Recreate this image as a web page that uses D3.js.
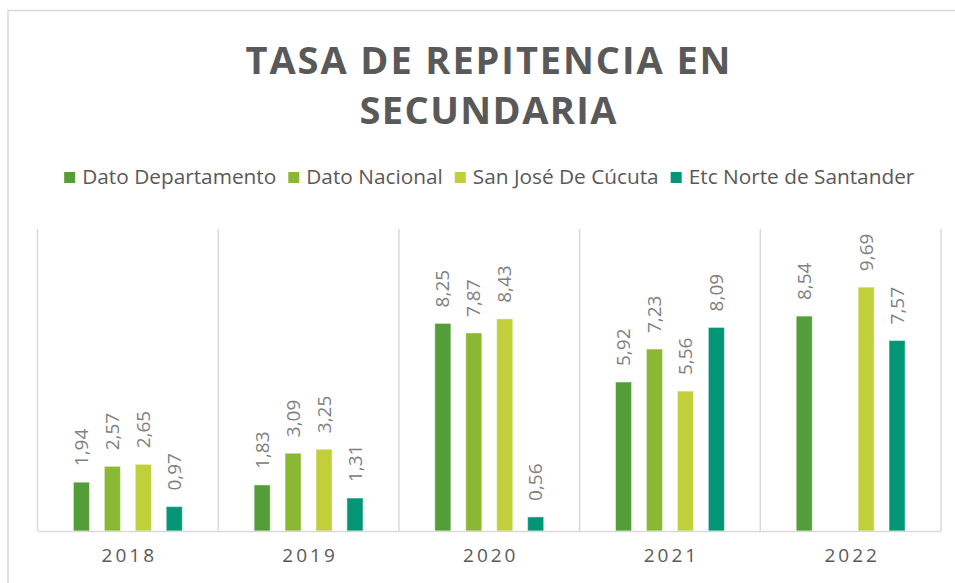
<!DOCTYPE html>
<html>
<head>
<meta charset="utf-8">
<script src="https://cdn.jsdelivr.net/npm/d3@7"></script>
<style>
  body { margin: 0; background: #fff; }
  text { font-family: "Open Sans", sans-serif; }
</style>
</head>
<body>
<div id="chart"></div>
<script>
// data
const years = ["2018", "2019", "2020", "2021", "2022"]
const series = ["Dato Departamento", "Dato Nacional", "San José De Cúcuta", "Etc Norte de Santander"]
const datoDepartamento = [1.94, 1.83, 8.25, 5.92, 8.54]
const datoNacional = [2.57, 3.09, 7.87, 7.23, null]
const sanJose = [2.65, 3.25, 8.43, 5.56, 9.69]
const etcNorte = [0.97, 1.31, 0.56, 8.09, 7.57]
const titleLines = ["TASA DE REPITENCIA EN", "SECUNDARIA"]

const colors = ["#549E39", "#8AB833", "#C0CF3A", "#029676"]
const values = [datoDepartamento, datoNacional, sanJose, etcNorte]

const width = 955, height = 583
const plot = {left: 37.5, right: 941, top: 229, bottom: 531}

const svg = d3.select("#chart").append("svg")
    .attr("width", width)
    .attr("height", height)

// chart frame
svg.append("rect")
    .attr("x", 8).attr("y", 10.5)
    .attr("width", 960).attr("height", 600)
    .attr("fill", "none")
    .attr("stroke", "#d9d9d9")
    .attr("stroke-width", 1.5)

// title
svg.append("g").selectAll("text")
    .data(titleLines)
    .join("text")
    .attr("x", 488)
    .attr("y", (d, i) => 74 + i * 50)
    .attr("text-anchor", "middle")
    .attr("font-size", 38)
    .attr("font-weight", "bold")
    .attr("fill", "#595959")
    .attr("textLength", (d, i) => i === 0 ? 485 : 257)
    .attr("lengthAdjust", "spacing")
    .text(d => d)

// legend, laid out from measured text widths
const legend = svg.append("g")
const items = legend.selectAll("g")
    .data(series)
    .join("g")
items.append("rect")
    .attr("width", 11).attr("height", 11)
    .attr("y", 172)
    .attr("fill", (d, i) => colors[i])
items.append("text")
    .attr("x", 18)
    .attr("y", 184)
    .attr("font-size", 20.8)
    .attr("fill", "#595959")
    .text(d => d)
let cx = 0
const offsets = []
items.each(function() {
    offsets.push(cx)
    cx += 18 + d3.select(this).select("text").node().getComputedTextLength() + 12
})
const legendW = cx - 12
items.attr("transform", (d, i) => `translate(${(plot.left + plot.right) / 2 - legendW / 2 + offsets[i]},0)`)

// scales
const x = d3.scaleBand()
    .domain(years)
    .range([plot.left, plot.right])
    .padding(0)

const xSub = d3.scaleBand()
    .domain(series)
    .range([0, x.bandwidth()])
    .paddingInner(0.48)
    .paddingOuter(1.16)

const y = d3.scaleLinear()
    .domain([0, 12])
    .range([plot.bottom, plot.top])

// vertical gridlines between categories
const bounds = years.map(d => x(d)).concat([x(years[years.length - 1]) + x.bandwidth()])
svg.append("g").selectAll("line")
    .data(bounds)
    .join("line")
    .attr("x1", d => d).attr("x2", d => d)
    .attr("y1", plot.top).attr("y2", plot.bottom)
    .attr("stroke", "#d9d9d9")
    .attr("stroke-width", 1.5)

// bars
const fmt = d3.formatLocale({decimal: ",", thousands: ".", grouping: [3], currency: ["", ""]}).format(".2f")

const groups = svg.append("g")
    .selectAll("g")
    .data(years)
    .join("g")
    .attr("transform", d => `translate(${x(d)},0)`)

const cells = groups.selectAll("g")
    .data((yr, yi) => series.map((s, si) => ({key: s, idx: si, value: values[si][yi]})).filter(d => d.value != null))
    .join("g")

cells.append("rect")
    .attr("x", d => xSub(d.key))
    .attr("y", d => y(d.value))
    .attr("width", xSub.bandwidth())
    .attr("height", d => y(0) - y(d.value))
    .attr("fill", d => colors[d.idx])
    .attr("stroke", "#ffffff")
    .attr("stroke-opacity", 0.5)
    .attr("stroke-width", 1)

cells.append("text")
    .attr("transform", d => `translate(${xSub(d.key) + xSub.bandwidth() / 2},${y(d.value) - 16}) rotate(-90)`)
    .attr("dy", "0.35em")
    .attr("font-size", 19)
    .attr("fill", "#808080")
    .text(d => fmt(d.value))

// x axis
const xAxis = svg.append("g")
    .attr("transform", `translate(0,${plot.bottom})`)
    .call(d3.axisBottom(x).tickSize(0).tickSizeOuter(0).tickPadding(18))
xAxis.select(".domain").attr("stroke", "#d9d9d9").attr("stroke-width", 1.5)
xAxis.selectAll("text")
    .attr("font-family", "Open Sans, sans-serif")
    .attr("font-size", 19)
    .attr("fill", "#595959")
    .attr("letter-spacing", 3)
    .attr("dx", 1.5)
</script>
</body>
</html>
